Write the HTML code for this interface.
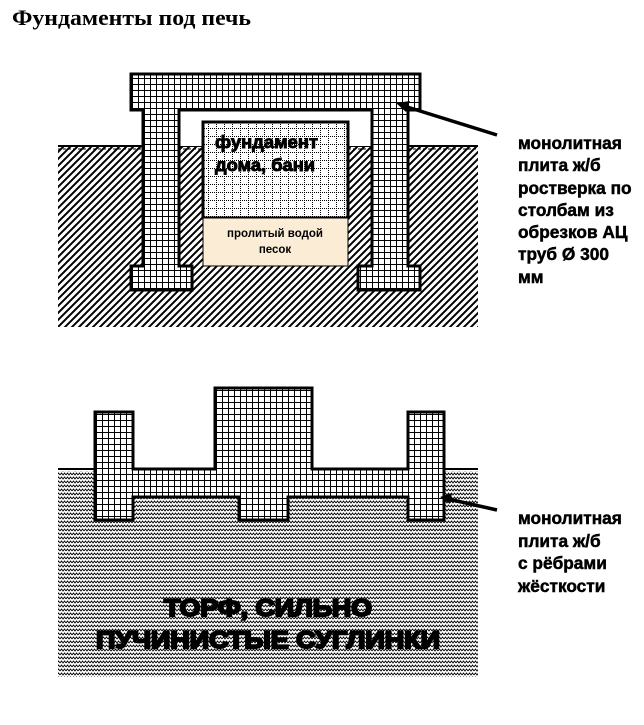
<!DOCTYPE html>
<html><head><meta charset="utf-8"><style>
html,body{margin:0;padding:0;background:#fff;width:644px;height:725px;overflow:hidden}
svg{display:block}
</style></head><body>
<svg width="644" height="725" viewBox="0 0 644 725" xmlns="http://www.w3.org/2000/svg">
<defs>
<pattern id="grid" width="6" height="6" patternUnits="userSpaceOnUse">
<rect width="6" height="6" fill="#fff"/>
<rect x="0" y="0" width="6" height="1" fill="#000"/>
<rect x="0" y="0" width="1" height="6" fill="#000"/>
</pattern>
<pattern id="dots" width="8" height="8" patternUnits="userSpaceOnUse">
<rect width="8" height="8" fill="#fff"/>
<path d="M0,0.5H8M0.5,0V8" stroke="#000" stroke-width="1" stroke-dasharray="1,1"/>
</pattern>
<pattern id="hatch" width="7" height="7" patternUnits="userSpaceOnUse">
<rect width="7" height="7" fill="#fff"/>
<path d="M-1,8L8,-1M-4,4L4,-4M3,11L11,3" stroke="#000" stroke-width="2"/>
</pattern>
<pattern id="wave" width="6" height="4" patternUnits="userSpaceOnUse">
<rect width="6" height="4" fill="#fff"/>
<path d="M0,3L1.5,1L3,3L4.5,1L6,3" stroke="#000" stroke-width="0.9" fill="none"/>
</pattern>
</defs>

<text x="12" y="25" textLength="239" lengthAdjust="spacingAndGlyphs" font-family="Liberation Serif,serif" font-weight="bold" font-size="22">Фундаменты под печь</text>

<rect x="58" y="147" width="420" height="180" fill="url(#hatch)"/>
<line x1="58" y1="146" x2="478" y2="146" stroke="#000" stroke-width="2"/>
<line x1="58" y1="149" x2="478" y2="149" stroke="#000" stroke-width="1" stroke-dasharray="3,2"/>
<rect x="179" y="110" width="193" height="36" fill="#fff"/>

<rect x="203" y="122" width="145" height="96" fill="url(#dots)" stroke="#000" stroke-width="3"/>
<rect x="203" y="218" width="145" height="48" fill="#fbecd6" stroke="#000" stroke-width="1"/>
<text x="215" y="148" textLength="103" lengthAdjust="spacingAndGlyphs" font-family="Liberation Sans,sans-serif" font-weight="bold" font-size="17.5" fill="#000" stroke="#000" stroke-width="0.9">фундамент</text>
<text x="215" y="171" textLength="100" lengthAdjust="spacingAndGlyphs" font-family="Liberation Sans,sans-serif" font-weight="bold" font-size="17.5" fill="#000" stroke="#000" stroke-width="0.9">дома, бани</text>
<text x="275" y="237" text-anchor="middle" font-family="Liberation Sans,sans-serif" font-weight="bold" font-size="11.5">пролитый водой</text>
<text x="275" y="253" text-anchor="middle" font-family="Liberation Sans,sans-serif" font-weight="bold" font-size="11.5">песок</text>

<path d="M131,74H420V110H408V266H420V290H358V266H372V110H179V266H192V290H131V266H143V110H131Z" fill="url(#grid)" stroke="#000" stroke-width="3"/>

<line x1="497" y1="135" x2="404" y2="106" stroke="#000" stroke-width="3.5"/>
<polygon points="396,103 410,101 406,112" fill="#000"/>

<g font-family="Liberation Sans,sans-serif" font-weight="bold" font-size="17.3" fill="#000" stroke="#000" stroke-width="0.5">
<text x="518" y="149">монолитная</text>
<text x="518" y="171">плита ж/б</text>
<text x="518" y="194">ростверка по</text>
<text x="518" y="216">столбам из</text>
<text x="518" y="238">обрезков АЦ</text>
<text x="518" y="260">труб Ø 300</text>
<text x="518" y="283">мм</text>
<text x="518" y="524">монолитная</text>
<text x="518" y="547">плита ж/б</text>
<text x="518" y="569">с рёбрами</text>
<text x="518" y="592">жёсткости</text>
</g>

<rect x="58" y="471" width="420" height="206" fill="url(#wave)"/>
<line x1="58" y1="469" x2="478" y2="469" stroke="#000" stroke-width="2"/>

<path d="M95,412H133V469H215V388H312V469H408V412H444V520H408V497H288V520H239V497H133V520H95Z" fill="url(#grid)" stroke="#000" stroke-width="3"/>

<line x1="497" y1="510" x2="448" y2="499" stroke="#000" stroke-width="3.5"/>
<polygon points="440,497 452,493 450,504" fill="#000"/>

<text x="164" y="616" textLength="208" lengthAdjust="spacingAndGlyphs" font-family="Liberation Sans,sans-serif" font-weight="bold" font-size="24" fill="#000" stroke="#000" stroke-width="2">ТОРФ, СИЛЬНО</text>
<text x="96" y="648" textLength="344" lengthAdjust="spacingAndGlyphs" font-family="Liberation Sans,sans-serif" font-weight="bold" font-size="24" fill="#000" stroke="#000" stroke-width="2">ПУЧИНИСТЫЕ СУГЛИНКИ</text>
</svg>
</body></html>
